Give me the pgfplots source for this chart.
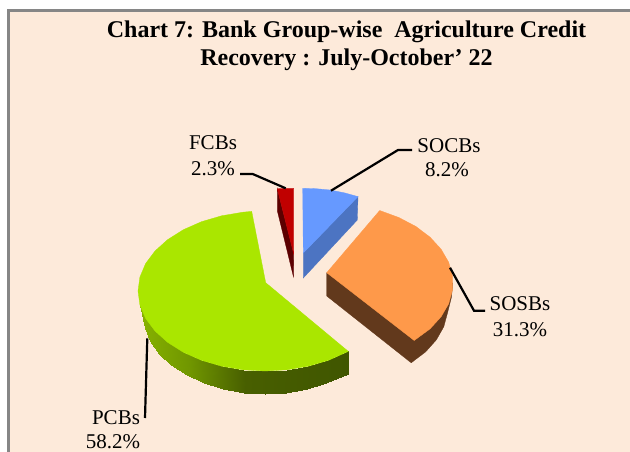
\documentclass[border=0pt]{standalone}
\usepackage{pgfplots}
\pgfplotsset{compat=1.18}
\usepackage{fontspec}
\setmainfont{Liberation Serif}
\definecolor{panel}{HTML}{FDEADA}
\definecolor{pgreen}{RGB}{170,230,0}
\definecolor{porange}{RGB}{254,153,74}
\definecolor{pbrown}{RGB}{98,57,28}
\definecolor{pblue}{RGB}{102,153,255}
\definecolor{pbluedark}{RGB}{76,116,194}
\definecolor{pred}{RGB}{192,0,0}
\definecolor{preddark}{RGB}{92,0,0}
\begin{document}
\begin{tikzpicture}
\begin{axis}[
  scale only axis, width=630pt, height=452pt,
  xmin=0, xmax=630, ymin=0, ymax=452, y dir=reverse,
  axis lines=none, clip=true,
  colormap={sidegreen}{rgb255(0)=(135,178,0); rgb255(50)=(112,150,0); rgb255(105)=(72,95,0); rgb255(208)=(64,86,0)},
]
% page and panel
\addplot[fill=white, draw=none] coordinates {(0,0) (630,0) (630,452) (0,452)} --cycle;
\addplot[fill=panel, draw=none] coordinates {(8,10) (630,10) (630,452) (8,452)} --cycle;
\addplot[draw={rgb,255:red,134;green,134;blue,134}, line width=2.4pt] coordinates {(8.5,452) (8.5,10.5) (630,10.5)};
% PCBs side
\addplot[surf, shader=interp, mesh/rows=2, mesh/cols=13, point meta=x, point meta min=140, point meta max=348, forget plot] coordinates {
(139.9,304.9) (145.6,318.4) (155.0,331.0) (167.7,342.4) (183.4,352.3) (201.5,360.3) (221.6,366.2) (242.9,369.8) (265,371) (287.1,369.8) (308.4,366.2) (328.5,360.3) (348.3,351.4)
(144.9,327.9) (150.4,341.4) (159.3,354) (171.5,365.4) (186.6,375.3) (204,383.3) (223.3,389.2) (243.8,392.8) (265,394) (286.2,392.8) (306.7,389.2) (326,383.3) (347.5,374.4)
};
% PCBs face
\addplot[fill=pgreen, draw=pgreen, line width=0.3pt] coordinates {
(265.7,282.7) (251.7,211.4) (242.9,212.2) (221.6,215.8) (201.5,221.7) (183.4,229.7) (167.7,239.6) (155.0,251.0) (145.6,263.6) (139.9,277.1) (138,291) (139.9,304.9) (145.6,318.4) (155.0,331.0) (167.7,342.4) (183.4,352.3) (201.5,360.3) (221.6,366.2) (242.9,369.8) (265,371) (287.1,369.8) (308.4,366.2) (328.5,360.3) (348.3,351.4)
} --cycle;
% SOSBs side
\addplot[fill=pbrown, draw=pbrown, line width=0.3pt] coordinates {
(326.7,272.7) (452.8,283) (451.5,297) (447.5,313) (443.8,326.7) (436.4,339.8) (425.6,351.9) (411.2,362.8) (326.7,296)
} --cycle;
% SOSBs face
\addplot[fill=porange, draw=porange, line width=0.3pt] coordinates {
(326.7,272.7) (379.7,210.5) (398.8,217.5) (415.8,226.4) (430.0,237.1) (441.1,249.2) (448.7,262.3) (452.5,276.0) (452.5,290.0) (448.7,303.7) (441.1,316.8) (430.0,328.9) (414.2,340.5)
} --cycle;
% SOCBs
\addplot[fill=pbluedark, draw=pbluedark, line width=0.3pt] coordinates {(303.3,253) (358,196.6) (357.3,220) (303.3,278)} --cycle;
\addplot[fill=pblue, draw=pblue, line width=0.3pt] coordinates {(302.7,188.3) (316,188.7) (330,190) (345,193) (358,196.6) (303.3,253)} --cycle;
% FCBs
\addplot[fill=preddark, draw=preddark, line width=0.3pt] coordinates {(277.3,188.5) (277.3,210.7) (293.5,277) (293.7,254)} --cycle;
\addplot[fill=pred, draw=pred, line width=0.3pt] coordinates {(277.3,188.8) (285,188.3) (293.7,188.3) (293.7,254)} --cycle;
% leaders
\addplot[black, line width=2.2pt] coordinates {(240,174) (252.7,174) (285.7,188.3)};
\addplot[black, line width=2.2pt] coordinates {(331,190.7) (398,150) (412,150)};
\addplot[black, line width=2.2pt] coordinates {(450,267.7) (474,310.7) (485,310.7)};
\addplot[black, line width=2.2pt] coordinates {(147.3,338.3) (145,418)};
% text
\node[font=\bfseries\fontsize{24}{27}\selectfont] at (axis cs:346.5,32) {Chart 7: Bank Group-wise\ \ Agriculture Credit};
\node[font=\bfseries\fontsize{24}{27}\selectfont] at (axis cs:346.5,60) {Recovery : July-October' 22};
\node[font=\fontsize{21}{24}\selectfont] at (axis cs:213,143) {FCBs};
\node[font=\fontsize{21}{24}\selectfont] at (axis cs:213,169) {2.3\%};
\node[font=\fontsize{21}{24}\selectfont] at (axis cs:449,146) {SOCBs};
\node[font=\fontsize{21}{24}\selectfont] at (axis cs:447,170) {8.2\%};
\node[font=\fontsize{21}{24}\selectfont] at (axis cs:520,304) {SOSBs};
\node[font=\fontsize{21}{24}\selectfont] at (axis cs:520,330) {31.3\%};
\node[font=\fontsize{21}{24}\selectfont] at (axis cs:116,418) {PCBs};
\node[font=\fontsize{21}{24}\selectfont] at (axis cs:113,441.5) {58.2\%};
\end{axis}
\end{tikzpicture}
\end{document}
